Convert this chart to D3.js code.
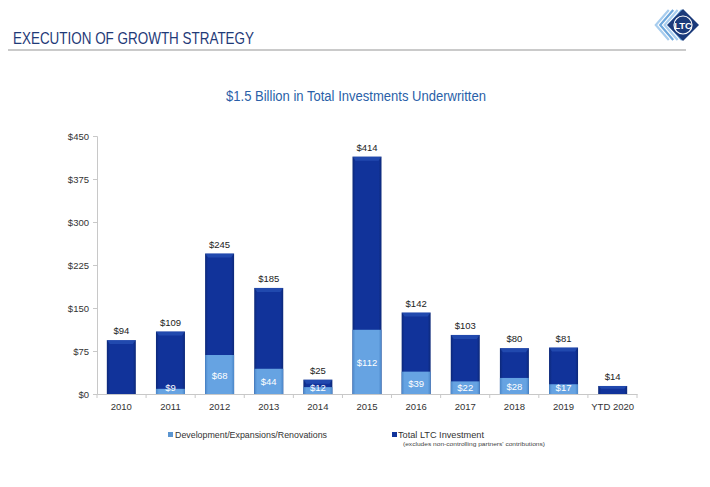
<!DOCTYPE html>
<html><head><meta charset="utf-8">
<script src="https://cdn.jsdelivr.net/npm/d3@7/dist/d3.min.js"></script>
<style>body{margin:0;background:#fff}svg{display:block}</style>
</head><body>
<svg id="c" width="710" height="487"></svg>
<script>
const categories = ["2010","2011","2012","2013","2014","2015","2016","2017","2018","2019","YTD 2020"];
const totalValues = [94,109,245,185,25,414,142,103,80,81,14];
const devValues = [0,9,68,44,12,112,39,22,28,17,0];
const yTicks = [0,75,150,225,300,375,450];

const svg = d3.select("#c");
const narrow = "'Liberation Sans Narrow','Arial Narrow','Liberation Sans',Arial,sans-serif";
const sans = "'Liberation Sans',Arial,sans-serif";

const defs = svg.append("defs");
function grad(id, edge, mid) {
  const g = defs.append("linearGradient").attr("id", id).attr("x1","0").attr("x2","1").attr("y1","0").attr("y2","0");
  g.append("stop").attr("offset","0").attr("stop-color", edge);
  g.append("stop").attr("offset","0.1").attr("stop-color", mid);
  g.append("stop").attr("offset","0.9").attr("stop-color", mid);
  g.append("stop").attr("offset","1").attr("stop-color", edge);
}
grad("gDark", "#0c2878", "#11339a");
grad("gLight", "#4a86c8", "#66a3e2");

// Header
svg.append("text").attr("x", 13).attr("y", 43.5).attr("font-family", narrow).attr("font-size", 17)
  .attr("textLength", 241).attr("lengthAdjust", "spacingAndGlyphs")
  .attr("fill", "#1f3a78").text("EXECUTION OF GROWTH STRATEGY");
svg.append("line").attr("x1", 8).attr("x2", 686).attr("y1", 50).attr("y2", 50)
  .attr("stroke", "#b8b8b8").attr("stroke-width", 1.5);

// Logo
const logo = svg.append("g").attr("transform", "translate(683,25)");
[0,1,2,3].forEach(i => {
  const dx = -14 - i*4.4;
  logo.append("path").attr("d", `M${dx+13},-15 L${dx},0 L${dx+13},15`)
    .attr("fill","none").attr("stroke", i%2? "#a8cdee":"#6fa8dc").attr("stroke-width", 2.2);
});
logo.append("path").attr("d","M0,-16 L16,0 L0,16 L-16,0 Z").attr("fill","#1b3a7a");
logo.append("circle").attr("r", 9).attr("fill","none").attr("stroke","#fff").attr("stroke-width",1.2);
logo.append("text").attr("text-anchor","middle").attr("y", 3.5).attr("font-family", sans)
  .attr("font-weight","bold").attr("font-size", 9.5).attr("fill","#fff").text("LTC");

// Subtitle
svg.append("text").attr("x", 226).attr("y", 101)
  .attr("font-family", narrow).attr("font-size", 14).attr("fill", "#2a5fa8")
  .attr("textLength", 260).attr("lengthAdjust", "spacingAndGlyphs")
  .text("$1.5 Billion in Total Investments Underwritten");

// Scales
const x = d3.scaleBand().domain(categories).range([97, 637]).paddingInner(0.41).paddingOuter(0.2);
const y = d3.scaleLinear().domain([0, 450]).range([394, 136]);

// Y axis
const yAxis = svg.append("g").attr("transform","translate(97,0)")
  .call(d3.axisLeft(y).tickValues(yTicks).tickSize(4).tickFormat(d => "$" + d));
yAxis.select(".domain").attr("stroke","#c8c8c8");
yAxis.selectAll(".tick line").attr("stroke","#c8c8c8");
yAxis.selectAll(".tick text").attr("font-family", sans).attr("font-size", 9.5).attr("fill","#333").attr("dx", -1);

// X axis
const xAxis = svg.append("g").attr("transform","translate(0,394)")
  .call(d3.axisBottom(x).tickSize(0).tickPadding(9));
xAxis.select(".domain").attr("stroke","#c8c8c8");
xAxis.selectAll(".tick text").attr("font-family", sans).attr("font-size", 9.5).attr("fill","#333");
xAxis.selectAll(".sep").data(d3.range(categories.length + 1)).enter().append("line")
  .attr("x1", i => 97 + i*(540/categories.length)).attr("x2", i => 97 + i*(540/categories.length))
  .attr("y1", 0).attr("y2", 4).attr("stroke","#c8c8c8");

const data = categories.map((c, i) => ({c, t: totalValues[i], d: devValues[i]}));

// Total bars
svg.append("g").selectAll("rect").data(data).enter().append("rect")
  .attr("x", d => x(d.c)).attr("width", x.bandwidth())
  .attr("y", d => y(d.t)).attr("height", d => y(0) - y(d.t))
  .attr("fill", "url(#gDark)");
// bevel top highlight
svg.append("g").selectAll("path").data(data).enter().append("path")
  .attr("d", d => {
    const x0 = x(d.c), w = x.bandwidth(), t = y(d.t), h = Math.min(4, (y(0)-y(d.t))/3);
    return `M${x0},${t} L${x0+w},${t} L${x0+w-3},${t+h} L${x0+3},${t+h} Z`;
  }).attr("fill", "#3563c8").attr("opacity", 0.45);

// Dev bars
svg.append("g").selectAll("rect").data(data.filter(d => d.d > 0)).enter().append("rect")
  .attr("x", d => x(d.c)).attr("width", x.bandwidth())
  .attr("y", d => y(d.d)).attr("height", d => y(0) - y(d.d))
  .attr("fill", "url(#gLight)");

// Total labels
svg.append("g").selectAll("text").data(data).enter().append("text")
  .attr("x", d => x(d.c) + x.bandwidth()/2).attr("y", d => y(d.t) - 6)
  .attr("text-anchor","middle").attr("font-family", sans).attr("font-size", 9.5).attr("fill","#222")
  .text(d => "$" + d.t);

// Dev labels
svg.append("g").selectAll("text").data(data.filter(d => d.d > 0)).enter().append("text")
  .attr("x", d => x(d.c) + x.bandwidth()/2)
  .attr("y", d => Math.min((y(d.d) + y(0))/2 + 4, 391))
  .attr("text-anchor","middle").attr("font-family", sans).attr("font-size", 9.5).attr("fill","#fff")
  .text(d => "$" + d.d);

// Legend
const lg = svg.append("g");
lg.append("rect").attr("x", 168).attr("y", 432).attr("width", 5).attr("height", 5).attr("fill", "#5b95d0");
lg.append("text").attr("x", 175).attr("y", 437.5).attr("font-family", sans).attr("font-size", 8.8).attr("fill","#333")
  .attr("textLength", 152).attr("lengthAdjust", "spacingAndGlyphs")
  .text("Development/Expansions/Renovations");
lg.append("rect").attr("x", 392).attr("y", 432).attr("width", 5).attr("height", 5).attr("fill", "#11339a");
lg.append("text").attr("x", 398).attr("y", 437.5).attr("font-family", sans).attr("font-size", 8.8).attr("fill","#333")
  .attr("textLength", 86).attr("lengthAdjust", "spacingAndGlyphs")
  .text("Total LTC Investment");
lg.append("text").attr("x", 403).attr("y", 445.5).attr("font-family", sans).attr("font-size", 5.5).attr("fill","#444")
  .attr("textLength", 142).attr("lengthAdjust", "spacingAndGlyphs")
  .text("(excludes non-controlling partners' contributions)");
</script>
</body></html>
